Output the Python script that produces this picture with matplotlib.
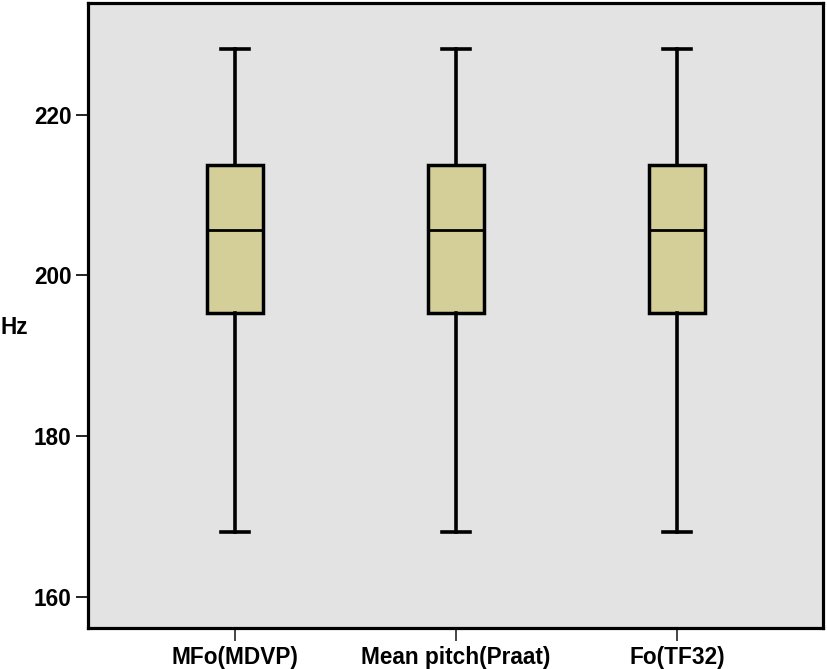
import matplotlib
matplotlib.use("Agg")
import matplotlib.pyplot as plt

categories = ["MFo(MDVP)", "Mean pitch(Praat)", "Fo(TF32)"]
whisker_low = [168.1, 168.1, 168.1]
q1 = [195.3, 195.3, 195.3]
median = [205.6, 205.6, 205.6]
q3 = [213.7, 213.7, 213.7]
whisker_high = [228.2, 228.2, 228.2]
yticks = [160, 180, 200, 220]

plt.rcParams['font.family'] = ['Liberation Sans', 'DejaVu Sans']

fig = plt.figure(figsize=(8.27, 6.69), dpi=100)
ax = fig.add_axes([88/827, 1 - 628/669, (823-88)/827, (628-3)/669])
ax.set_facecolor('#e3e3e3')

stats = []
for i, c in enumerate(categories):
    stats.append(dict(label=c, whislo=whisker_low[i], q1=q1[i], med=median[i],
                      q3=q3[i], whishi=whisker_high[i], fliers=[]))

positions = list(range(1, len(categories) + 1))
ax.bxp(stats, positions=positions, widths=0.255, patch_artist=True,
       boxprops=dict(facecolor='#d4cf98', edgecolor='black', linewidth=2.5),
       medianprops=dict(color='black', linewidth=2.0),
       whiskerprops=dict(color='black', linewidth=2.6),
       capprops=dict(color='black', linewidth=2.6),
       capwidths=0.125, showfliers=False)

ax.set_xlim(0.335, 3.66)
ax.set_ylim(156.1, 233.9)
ax.set_yticks(yticks)
ax.set_yticklabels([str(v) for v in yticks])
ax.set_xticks(positions)
ax.set_xticklabels(categories)

for s in ax.spines.values():
    s.set_linewidth(2.3)
    s.set_color('black')

ax.tick_params(axis='y', length=9, width=1.4, color='#222222', pad=3,
               labelsize=16.3)
ax.tick_params(axis='x', length=9, width=1.4, color='#444444', pad=4,
               labelsize=16.3)
for lab in ax.get_xticklabels() + ax.get_yticklabels():
    lab.set_fontweight('bold')

fig.text(0.0, 1 - 327/669, "Hz", ha='left', va='center', fontsize=16.3,
         fontweight='bold')

fig.savefig("out.png", dpi=100)
